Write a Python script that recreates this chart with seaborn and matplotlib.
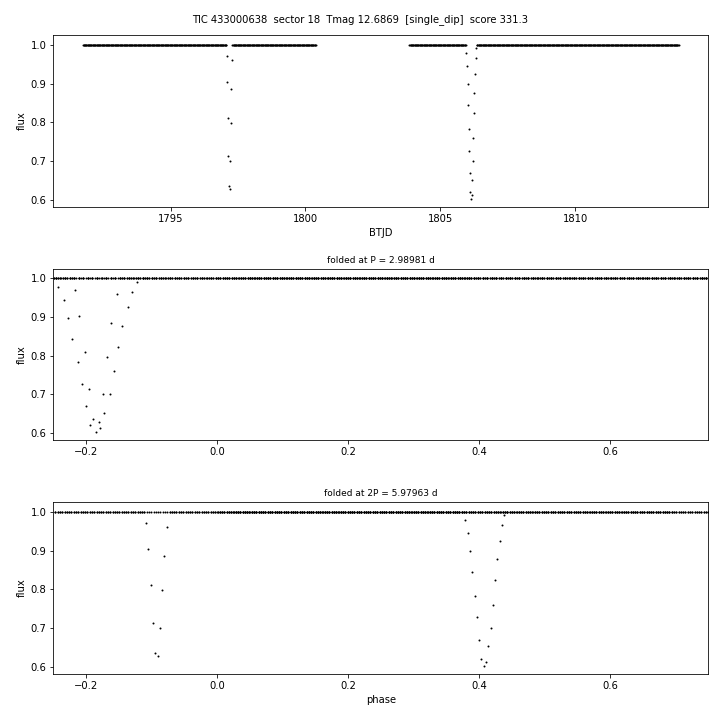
import numpy as np
import pandas as pd
import matplotlib
matplotlib.use("Agg")
import matplotlib.pyplot as plt
import seaborn as sns

# ---------------- data ----------------
tic_id = "433000638"
sector = 18
tmag = 12.6869
flag = "single_dip"
score = 331.3

period = 2.98981          # days
period_label_1 = "2.98981"
period_label_2 = "5.97963"
t0 = 1797.73              # fold reference epoch (BTJD)
cadence = 1.0 / 48.0      # 30-min FFI cadence (days)

# continuous observing segments (BTJD)
orbit_start = [1791.755, 1803.860]
orbit_end = [1800.380, 1813.855]

# out-of-dip flux level (normalised)
baseline_flux = 1.0

# first dip (BTJD, normalised flux)
dip1_time = [1797.0818, 1797.1003, 1797.1273, 1797.1458, 1797.1637,
             1797.1912, 1797.2098, 1797.2277, 1797.2462, 1797.2738]
dip1_flux = [0.971, 0.903, 0.810, 0.713, 0.636,
             0.628, 0.700, 0.797, 0.885, 0.960]

# second dip (BTJD, normalised flux)
dip2_time = [1805.9735, 1806.0010, 1806.0195, 1806.0375, 1806.0650,
             1806.0829, 1806.1015, 1806.1200, 1806.1469, 1806.1654,
             1806.1834, 1806.2109, 1806.2294, 1806.2473, 1806.2659,
             1806.2934, 1806.3113, 1806.3335]
dip2_flux = [0.978, 0.945, 0.898, 0.844, 0.783,
             0.727, 0.670, 0.620, 0.602, 0.612,
             0.652, 0.700, 0.760, 0.823, 0.877,
             0.925, 0.965, 0.991]

# ---------------- assemble light curve ----------------
windows = [(min(dip1_time) - cadence / 2, max(dip1_time) + cadence / 2),
           (min(dip2_time) - cadence / 2, max(dip2_time) + cadence / 2)]
base_t = []
for s, e in zip(orbit_start, orbit_end):
    tt = np.arange(s, e + 1e-9, cadence)
    keep = np.ones(tt.size, bool)
    for a, b in windows:
        keep &= ~((tt >= a) & (tt <= b))
    base_t.append(tt[keep])
base_t = np.concatenate(base_t)

time = np.concatenate([base_t, dip1_time, dip2_time])
flux = np.concatenate([np.full(base_t.size, baseline_flux), dip1_flux, dip2_flux])
df = pd.DataFrame({"time": time, "flux": flux})


def fold(t, p):
    return ((t - t0) / p + 0.25) % 1.0 - 0.25


df["phase1"] = fold(df["time"], period)
df["phase2"] = fold(df["time"], 2 * period)

# ---------------- plot ----------------
fig, axes = plt.subplots(3, 1, figsize=(10, 10), dpi=72)
fig.subplots_adjust(left=0.074, right=0.9838, top=0.951, bottom=0.064, hspace=0.36)

kw = dict(color="black", s=4, linewidth=0, marker="o", legend=False)
sns.scatterplot(data=df, x="time", y="flux", ax=axes[0], **kw)
sns.scatterplot(data=df, x="phase1", y="flux", ax=axes[1], **kw)
sns.scatterplot(data=df, x="phase2", y="flux", ax=axes[2], **kw)

ylim = (0.581, 1.025)
for ax in axes:
    ax.set_ylim(*ylim)
    ax.set_ylabel("flux")
axes[0].set_xlabel("BTJD")
axes[1].set_xlabel("")
axes[2].set_xlabel("phase")
axes[1].set_xlim(-0.25, 0.75)
axes[2].set_xlim(-0.25, 0.75)
axes[1].set_title(f"folded at P = {period_label_1} d", fontsize=9)
axes[2].set_title(f"folded at 2P = {period_label_2} d", fontsize=9)

fig.suptitle(f"TIC {tic_id}  sector {sector}  Tmag {tmag}  [{flag}]  score {score}",
             fontsize=10)

fig.savefig("out.png", dpi=72)
